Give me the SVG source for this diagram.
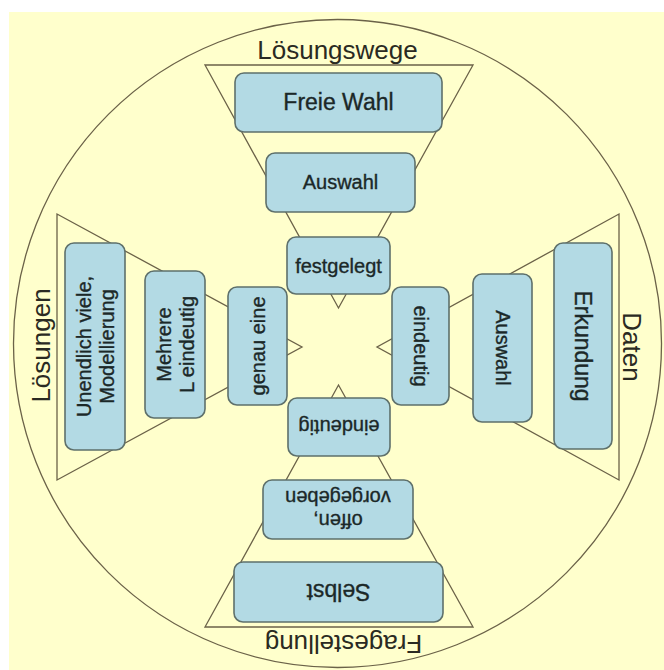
<svg xmlns="http://www.w3.org/2000/svg" width="664" height="670" viewBox="0 0 664 670">
<style>
.bg{fill:#FFFFCC}
.ln{fill:none;stroke:#6B6248;stroke-width:1.3}
.tri{fill:#FFFFCC;stroke:#6B6248;stroke-width:1.3;stroke-linejoin:miter}
.box{fill:#B3DAE4;stroke:#5E706B;stroke-width:1.6}
.t{font-family:"Liberation Sans",Arial,sans-serif;fill:#1B2828;stroke:#1B2828;stroke-width:0.35;text-anchor:middle}
.big{font-size:23px}
.sm{font-size:20px}
.lab{font-family:"Liberation Sans",Arial,sans-serif;fill:#2A2A22;font-size:26px;text-anchor:middle}
</style>
<rect x="0" y="0" width="664" height="670" fill="#FFFFFF"/>
<rect class="bg" x="9" y="12" width="655" height="658"/>
<circle class="ln" cx="337.5" cy="343.5" r="324"/>
<g id="connectors">
<polygon class="tri" points="205,65 473,65 338.5,308"/>
<polygon class="tri" points="205,627 473,627 338.5,385"/>
<polygon class="tri" points="57,214 57,480 302,347"/>
<polygon class="tri" points="619,214 619,480 377,347"/>
</g>
<g id="label-loesungswege"><text class="lab" x="337.5" y="59">Lösungswege</text></g>
<g id="label-fragestellung"><text class="lab" transform="translate(343.5,635) rotate(180)" x="0" y="0">Fragestellung</text></g>
<g id="label-loesungen"><text class="lab" transform="translate(50,345.5) rotate(-90)" x="0" y="0">Lösungen</text></g>
<g id="label-daten"><text class="lab" transform="translate(623,347) rotate(90)" x="0" y="0">Daten</text></g>

<g id="freie-wahl"><rect class="box" x="235" y="73" width="207" height="59" rx="9"/><text class="t big" x="338.5" y="110">Freie Wahl</text></g>
<g id="auswahl-oben"><rect class="box" x="266" y="153" width="149" height="59" rx="9"/><text class="t sm" x="340.5" y="189">Auswahl</text></g>
<g id="festgelegt"><rect class="box" x="287" y="237" width="103" height="57" rx="9"/><text class="t sm" x="338.5" y="272.5">festgelegt</text></g>

<g id="unendlich"><rect class="box" x="65" y="243" width="60" height="207" rx="9"/><text class="t sm" transform="translate(95,346.5) rotate(-90)"><tspan x="0" y="-4.5">Unendlich viele,</tspan><tspan x="0" y="18.5">Modellierung</tspan></text></g>
<g id="mehrere"><rect class="box" x="145" y="271" width="60" height="147" rx="9"/><text class="t sm" transform="translate(175,344.5) rotate(-90)"><tspan x="0" y="-4.5">Mehrere</tspan><tspan x="0" y="18.5">L eindeutig</tspan></text></g>
<g id="genau-eine"><rect class="box" x="228" y="287" width="59" height="118" rx="9"/><text class="t sm" transform="translate(257.5,346) rotate(-90)" x="0" y="7">genau eine</text></g>

<g id="eindeutig-rechts"><rect class="box" x="392" y="287" width="57" height="118" rx="9"/><text class="t sm" transform="translate(420.5,346) rotate(90)" x="0" y="7">eindeutig</text></g>
<g id="auswahl-rechts"><rect class="box" x="473" y="274" width="59" height="148" rx="9"/><text class="t sm" transform="translate(502.5,348) rotate(90)" x="0" y="7">Auswahl</text></g>
<g id="erkundung"><rect class="box" x="554" y="243" width="58" height="206" rx="9"/><text class="t big" transform="translate(583,346) rotate(90)" x="0" y="8">Erkundung</text></g>

<g id="eindeutig-unten"><rect class="box" x="288" y="398" width="102" height="58" rx="9"/><text class="t sm" transform="translate(339,427) rotate(180)" x="0" y="7">eindeutig</text></g>
<g id="offen"><rect class="box" x="263" y="480" width="150" height="59" rx="9"/><text class="t sm" transform="translate(338,509.5) rotate(180)"><tspan x="0" y="-4.5">offen,</tspan><tspan x="0" y="18.5">vorgegeben</tspan></text></g>
<g id="selbst"><rect class="box" x="234" y="562" width="209" height="60" rx="9"/><text class="t big" transform="translate(338.5,592) rotate(180)" x="0" y="8">Selbst</text></g>
</svg>
